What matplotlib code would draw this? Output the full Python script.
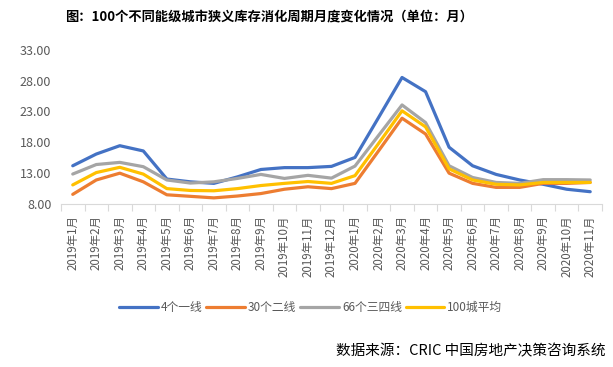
import numpy as np
import matplotlib
matplotlib.use('Agg')
import matplotlib.pyplot as plt

plt.rcParams['font.family'] = ['Noto Sans CJK SC', 'DejaVu Sans']

months = ['2019年%d月' % m for m in range(1, 13)] + ['2020年%d月' % m for m in range(1, 12)]

tier1 = [14.2, 16.1, 17.45, 16.6, 12.05, 11.6, 11.35, 12.4, 13.6, 13.9, 13.9, 14.1,
         15.55, 22.0, 28.5, 26.2, 17.2, 14.2, 12.8, 11.9, 11.2, 10.4, 10.0]
tier2 = [9.57, 11.9, 13.0, 11.6, 9.5, 9.25, 9.0, 9.3, 9.7, 10.4, 10.8, 10.5,
         11.35, 16.6, 21.9, 19.35, 13.0, 11.35, 10.7, 10.7, 11.35, 11.35, 11.5]
tier34 = [12.86, 14.4, 14.75, 14.05, 11.9, 11.4, 11.6, 12.15, 12.8, 12.15, 12.65, 12.2,
          14.15, 19.1, 24.05, 21.2, 14.2, 12.3, 11.5, 11.35, 11.95, 11.95, 11.9]
avg100 = [11.1, 13.1, 13.95, 12.85, 10.5, 10.2, 10.15, 10.5, 11.0, 11.35, 11.65, 11.35,
          12.6, 17.8, 23.1, 20.5, 13.7, 11.9, 11.2, 11.1, 11.5, 11.5, 11.5]

series = [('4个一线', tier1, '#4472C4'),
          ('30个二线', tier2, '#ED7D31'),
          ('66个三四线', tier34, '#A5A5A5'),
          ('100城平均', avg100, '#FFC000')]

fig = plt.figure(figsize=(6.13, 3.67), dpi=100)
ax = fig.add_axes([0.0995, 0.444, 0.8825, 0.4206])

x = np.arange(len(months))
for name, vals, c in series:
    ax.plot(x, vals, color=c, lw=2.3, label=name, solid_capstyle='round')

ax.set_xlim(-0.5, len(months) - 0.5)
ax.set_ylim(8, 33)
ax.set_yticks(np.arange(8, 34, 5))
ax.set_yticklabels(['%.2f' % v for v in np.arange(8, 34, 5)])
ax.set_xticks(x)
ax.set_xticklabels(months, rotation=90)
ax.set_xticks(np.arange(-0.5, len(months), 1), minor=True)
ax.tick_params(axis='x', which='major', length=0, pad=8, labelsize=8.3, labelcolor='#595959')
ax.tick_params(axis='x', which='minor', length=5, color='#D9D9D9', width=0.8)
ax.tick_params(axis='y', length=0, labelsize=9, labelcolor='#595959', pad=7)

for s in ['top', 'right', 'left']:
    ax.spines[s].set_visible(False)
ax.spines['bottom'].set_color('#D9D9D9')
ax.spines['bottom'].set_linewidth(0.8)

fig.text(0.439, 0.951, '图：100个不同能级城市狭义库存消化周期月度变化情况（单位：月）',
         ha='center', va='center', fontsize=9.5, fontweight='bold')

fig.legend(loc='center', bbox_to_anchor=(0.507, 0.163), ncol=4, frameon=False,
           fontsize=8.5, handlelength=3.3, columnspacing=0.3, handletextpad=0.25,
           labelcolor='#595959')

fig.text(0.987, 0.044, '数据来源：CRIC 中国房地产决策咨询系统', ha='right', va='center',
         fontsize=10.5)

fig.savefig('out.png', dpi=100)
